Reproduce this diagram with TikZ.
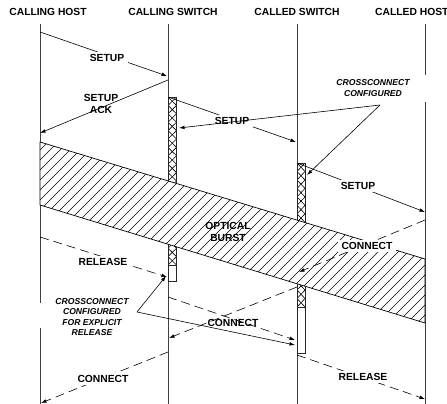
\documentclass[tikz,border=0pt]{standalone}
\usepackage{fontspec}
\setmainfont{Liberation Sans}
\usetikzlibrary{arrows.meta}
\begin{document}
\begin{tikzpicture}[x=1pt,y=-1pt,
  head/.style={font=\bfseries\fontsize{10.3}{12}\selectfont, inner sep=0pt},
  lbl/.style={font=\bfseries\fontsize{10.3}{11.5}\selectfont, align=center, inner sep=1pt},
  lblw/.style={lbl, fill=white, inner xsep=4pt, inner ysep=2pt},
  note/.style={font=\bfseries\itshape\fontsize{8.6}{10.3}\selectfont, align=center, inner sep=1pt},
  msg/.style={line width=0.6pt, -{Latex[length=5.5pt,width=3.6pt]}},
  dmsg/.style={msg, dash pattern=on 9pt off 5pt},
  life/.style={line width=0.9pt, draw=black!75},
  boxline/.style={line width=0.8pt, draw=black!85},
  xline/.style={line width=0.6pt},
  hline/.style={line width=0.5pt}
]
\useasboundingbox (0,0) rectangle (447,404);

% lifelines
\coordinate (h1t) at (40,24);  \coordinate (h1a) at (40,303);
\coordinate (h1b) at (40,328); \coordinate (h1e) at (40,404);
\coordinate (s1t) at (168,24); \coordinate (s1e) at (168,404);
\coordinate (s2t) at (297,24); \coordinate (s2e) at (297,404);
\coordinate (h2t) at (425,24); \coordinate (h2a) at (425,75);
\coordinate (h2b) at (425,102); \coordinate (h2e) at (425,404);
\draw[life] (h1t) -- (h1a);
\draw[life] (h1b) -- (h1e);
\draw[life] (s1t) -- (s1e);
\draw[life] (s2t) -- (s2e);
\draw[life] (h2t) -- (h2a);
\draw[life] (h2b) -- (h2e);

% crossconnect boxes
\fill[white] (168,97) rectangle (176.5,281);
\begin{scope}
  \clip (168,97) rectangle (176.5,265);
  \foreach \i in {0,...,19} {
    \draw[xline] (168,{97+\i*8.4}) -- (176.5,{97+(\i+1)*8.4});
    \draw[xline] (176.5,{97+\i*8.4}) -- (168,{97+(\i+1)*8.4});
  }
\end{scope}
\draw[boxline] (168,97) rectangle (176.5,281);
\draw[boxline] (168,265) -- (176.5,265);

\fill[white] (297,163) rectangle (305,353);
\begin{scope}
  \clip (297,163) rectangle (305,307);
  \foreach \i in {0,...,16} {
    \draw[xline] (297,{163+\i*8.47}) -- (305,{163+(\i+1)*8.47});
    \draw[xline] (305,{163+\i*8.47}) -- (297,{163+(\i+1)*8.47});
  }
\end{scope}
\draw[boxline] (297,163) rectangle (305,353);
\draw[boxline] (297,307) -- (305,307);

% optical burst
\coordinate (b1) at (40,142);
\coordinate (b2) at (425,259);
\coordinate (b3) at (425,323);
\coordinate (b4) at (40,205);
\fill[white] (b1) -- (b2) -- (b3) -- (b4) -- cycle;
\begin{scope}
  \clip (b1) -- (b2) -- (b3) -- (b4) -- cycle;
  \foreach \k in {-260,-250,...,440} {
    \draw[hline] (\k,340) -- ({\k+220},120);
  }
\end{scope}
\draw[line width=0.7pt] (b1) -- (b2) -- (b3) -- (b4) -- cycle;
\node[lbl] (burst) at (228,232) {OPTICAL\\BURST};

% messages
\coordinate (m1a) at (40,32);   \coordinate (m1b) at (167,76);
\draw[msg] (m1a) -- (m1b);
\node[lblw] (m1l) at (107,58) {SETUP};

\coordinate (m2a) at (168,80);  \coordinate (m2b) at (40,133);
\draw[msg] (m2a) -- (m2b);
\node[lbl] (m2l) at (101,104) {SETUP\\ACK};

\coordinate (m3a) at (168,97);  \coordinate (m3b) at (296,142);
\draw[msg] (m3a) -- (m3b);
\node[lblw] (m3l) at (232,121) {SETUP};

\coordinate (m4a) at (297,163); \coordinate (m4b) at (425,212);
\draw[msg] (m4a) -- (m4b);
\node[lblw] (m4l) at (358,186) {SETUP};

\coordinate (m5a) at (425,220); \coordinate (m5b) at (299,272);
\draw[dmsg] (m5a) -- (m5b);
\node[lblw] (m5l) at (367,246) {CONNECT};

\coordinate (m6a) at (297,287); \coordinate (m6b) at (169,338);
\draw[dmsg] (m6a) -- (m6b);
\node[lbl] (m6l) at (233,323) {CONNECT};

\coordinate (m7a) at (168,352); \coordinate (m7b) at (41,403);
\draw[dmsg] (m7a) -- (m7b);
\node[lblw] (m7l) at (103,379) {CONNECT};

\coordinate (r1a) at (40,237);  \coordinate (r1b) at (167,277);
\draw[dmsg] (r1a) -- (r1b);
\node[lblw] (r1l) at (103,262) {RELEASE};

\coordinate (r2a) at (168,297); \coordinate (r2b) at (295,340);
\draw[dmsg] (r2a) -- (r2b);

\coordinate (r3a) at (297,355); \coordinate (r3b) at (425,399);
\draw[dmsg] (r3a) -- (r3b);
\node[lblw] (r3l) at (363,377) {RELEASE};

% crossconnect notes
\node[note] (cc1) at (373,88) {CROSSCONNECT\\CONFIGURED};
\coordinate (cc1p) at (380,105);
\coordinate (cc1x) at (179,128);
\coordinate (cc1y) at (307,175);
\draw[msg] (cc1p) -- (cc1x);
\draw[msg] (cc1p) -- (cc1y);

\node[note] (cc2) at (92,317) {CROSSCONNECT\\CONFIGURED\\FOR EXPLICIT\\RELEASE};
\coordinate (cc2p) at (137,312);
\coordinate (cc2x) at (166,276);
\coordinate (cc2y) at (295,345);
\draw[msg] (cc2p) -- (cc2x);
\draw[msg] (cc2p) -- (cc2y);

% headings
\node[head] (t1) at (48,12) {CALLING HOST};
\node[head] (t2) at (173,12) {CALLING SWITCH};
\node[head] (t3) at (297,12) {CALLED SWITCH};
\node[head, anchor=west] (t4) at (375,12) {CALLED HOST};
\end{tikzpicture}
\end{document}
